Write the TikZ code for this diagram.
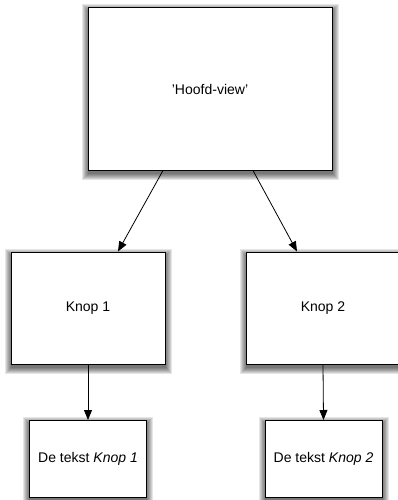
\documentclass[tikz,border=0pt]{standalone}
\usepackage{fontspec}
\setmainfont{Liberation Sans}
\usetikzlibrary{arrows.meta,calc,backgrounds}
\tikzset{
  viewbox/.style={draw=black, line width=1pt, fill=white, inner sep=0pt,
    font=\fontsize{14}{16}\selectfont},
  arr/.style={draw=black, line width=0.8pt,
    -{Triangle[length=10pt,width=8pt]}},
  shade layer/.style={fill=black, fill opacity=0.1}
}
% soft drop shadow behind a named box, built from stacked translucent rectangles
\newcommand\boxshade[1]{%
  \foreach \r in {0,1,...,6}{%
    \fill[shade layer] ($(#1.north west)+(-\r,-\r+3)$) rectangle ($(#1.south east)+(\r,\r+3)$);}}
\begin{document}
\begin{tikzpicture}[x=1pt,y=-1pt]
  \useasboundingbox (0,0) rectangle (397,500);
  % main view
  \node[viewbox, minimum width=244pt, minimum height=162pt] (hv) at (210,89) {'Hoofd-view'};
  % the two buttons
  \node[viewbox, minimum width=154pt, minimum height=112pt] (k1) at (88,308) {Knop 1};
  \node[viewbox, minimum width=154pt, minimum height=112pt] (k2) at (323,308) {Knop 2};
  % their text labels
  \node[viewbox, minimum width=117pt, minimum height=77pt] (t1) at (88,459) {De tekst \textit{Knop 1}};
  \node[viewbox, minimum width=117pt, minimum height=77pt] (t2) at (323.5,459) {De tekst \textit{Knop 2}};
  % shadows
  \begin{scope}[on background layer]
    \boxshade{hv}\boxshade{k1}\boxshade{k2}\boxshade{t1}\boxshade{t2}
  \end{scope}
  % connectors
  \draw[arr] ($(hv.south)+(-47,0)$) -- ($(k1.north)+(30,0)$);
  \draw[arr] ($(hv.south)+(43,0)$) -- ($(k2.north)+(-26,0)$);
  \draw[arr] (k1.south) -- (t1.north);
  \draw[arr] (k2.south) -- (t2.north);
\end{tikzpicture}
\end{document}
